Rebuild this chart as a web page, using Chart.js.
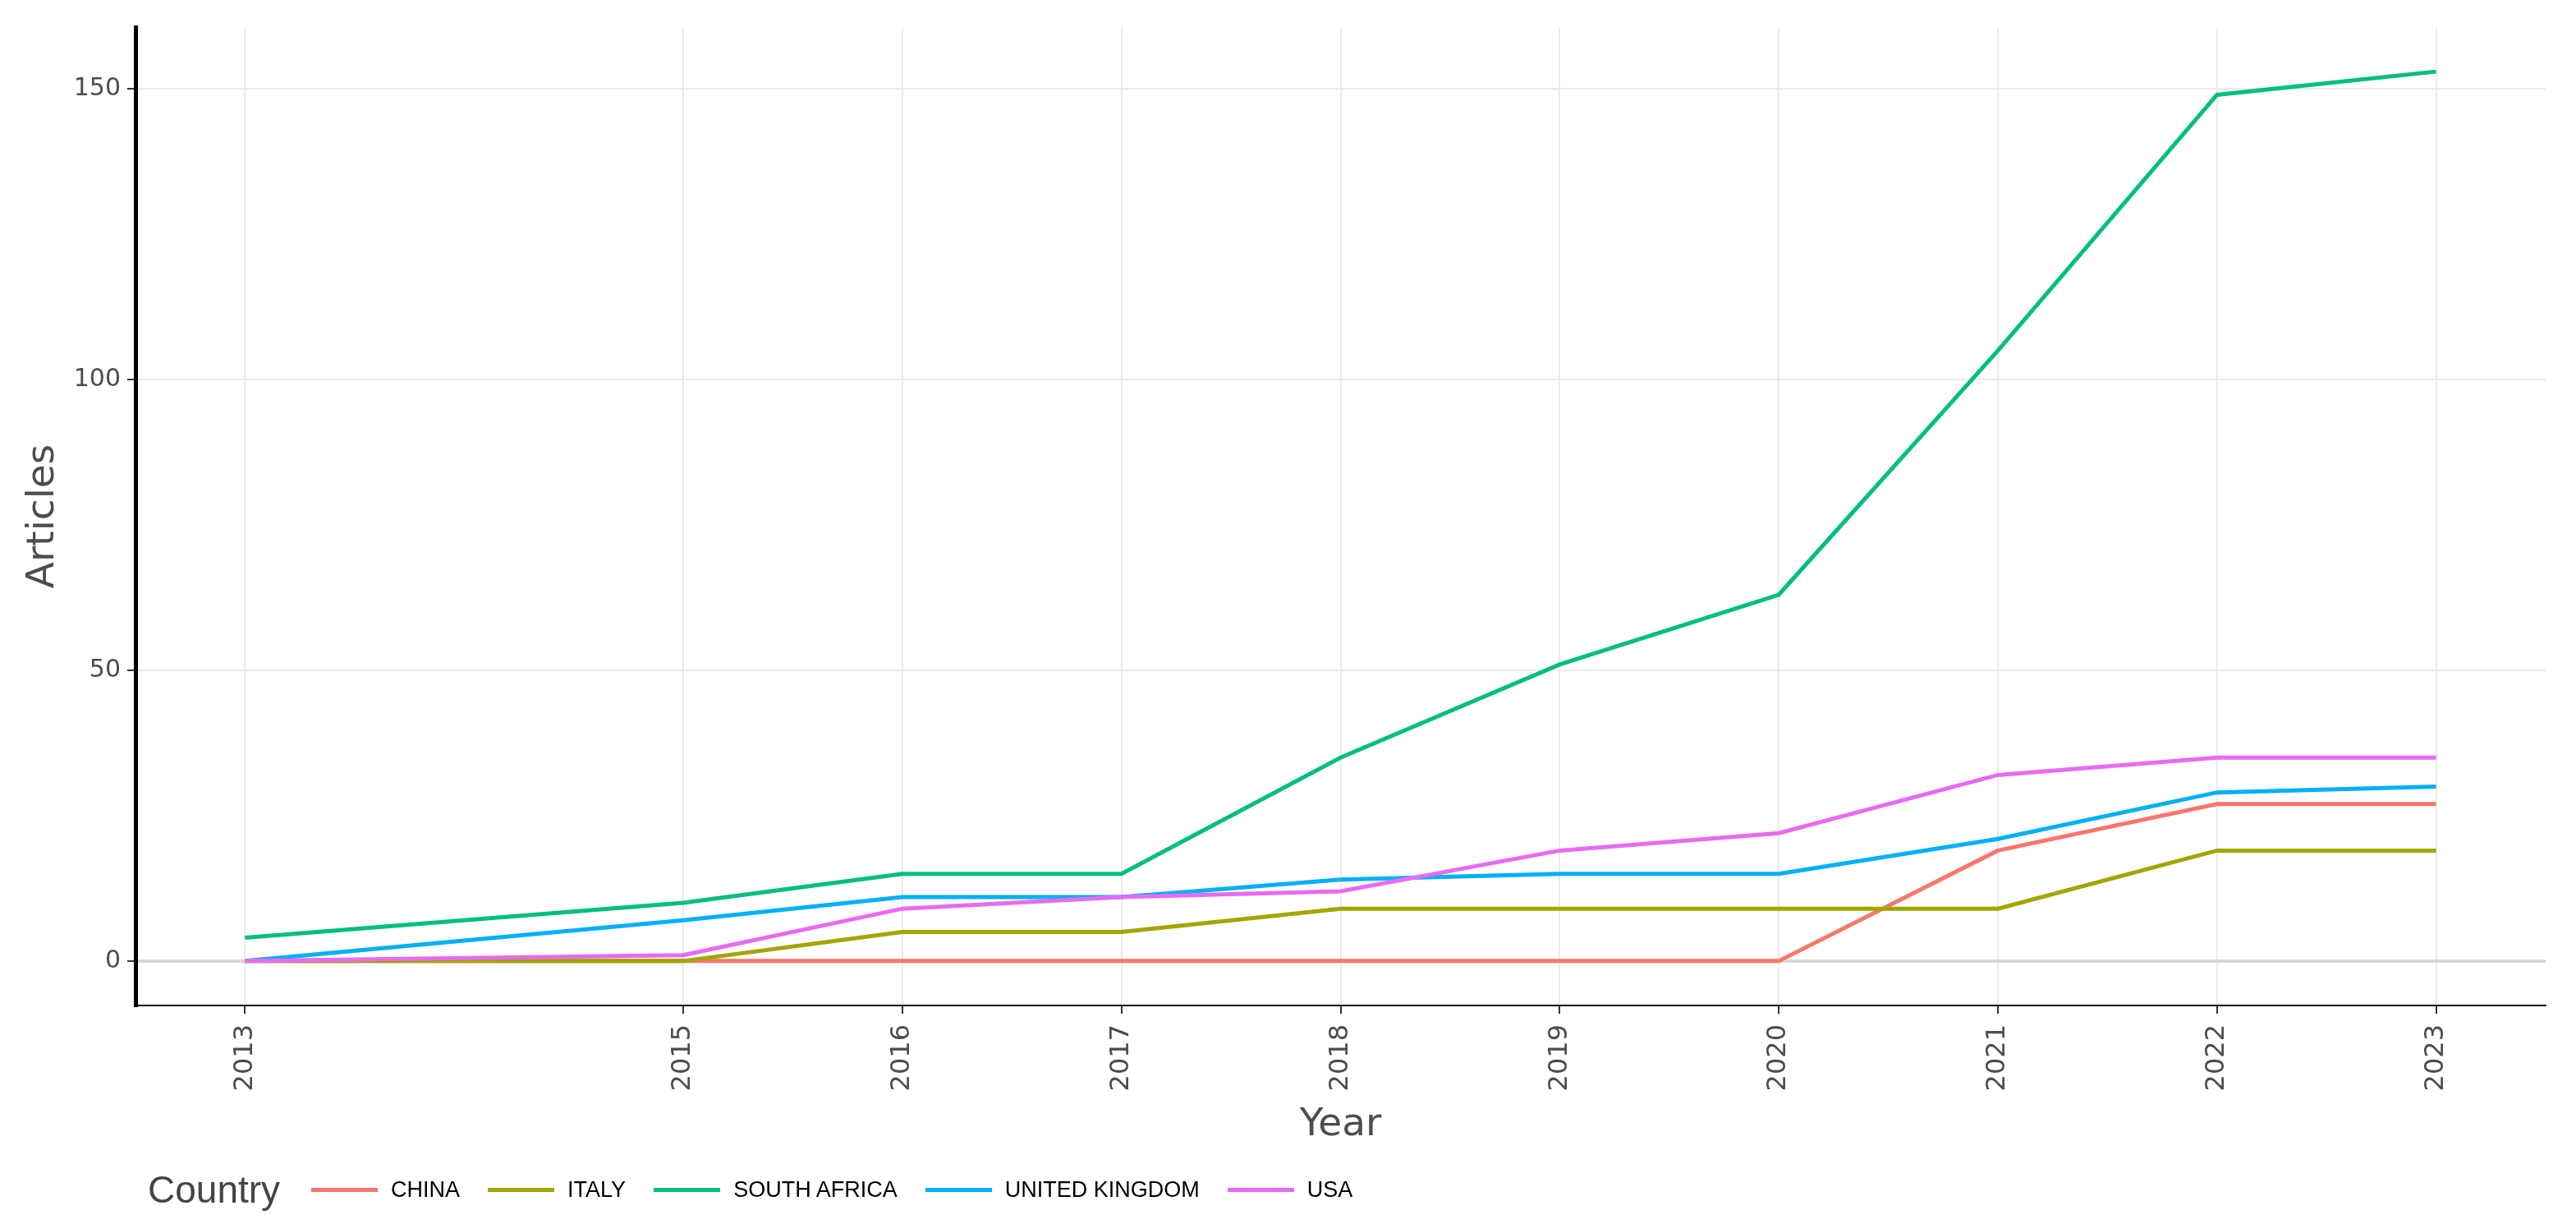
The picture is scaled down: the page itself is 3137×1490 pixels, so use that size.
<!DOCTYPE html>
<html lang="en">
<head>
<meta charset="UTF-8" />
<title>Articles per Year by Country</title>
<script src="https://cdn.jsdelivr.net/npm/chart.js"></script>
<style>
  html, body { margin: 0; padding: 0; background: #fff; }
  #wrap { position: relative; width: 3137px; height: 1490px; }
  #legend { position: absolute; left: 180px; top: 1418px; height: 60px; display: flex; align-items: center; }
  #legend .title { font-family: "Liberation Sans", Arial, sans-serif; font-size: 46px; color: #444; margin-right: 38px; }
  #legend .key { width: 81px; height: 5px; margin-right: 16px; }
  #legend .lbl { font-family: "Liberation Sans", Arial, sans-serif; font-size: 27px; color: #000; margin-right: 34px; }
</style>
</head>
<body>

<div id="wrap">
  <canvas id="articles" width="3137" height="1490"></canvas>
  <div id="legend"></div>
</div>

<script>
const years = [2013, 2015, 2016, 2017, 2018, 2019, 2020, 2021, 2022, 2023];
const countries = ["CHINA", "ITALY", "SOUTH AFRICA", "UNITED KINGDOM", "USA"];
const colors = ['#F8766D', '#A3A500', '#00BF7D', '#00B0F6', '#E76BF3'];

const china       = [0, 0, 0, 0, 0, 0, 0, 19, 27, 27];
const italy       = [0, 0, 5, 5, 9, 9, 9, 9, 19, 19];
const southAfrica = [4, 10, 15, 15, 35, 51, 63, 105, 149, 153];
const uk          = [0, 7, 11, 11, 14, 15, 15, 21, 29, 30];
const usa         = [0, 1, 9, 11, 12, 19, 22, 32, 35, 35];

const yTicks = [0, 50, 100, 150];

const series = [china, italy, southAfrica, uk, usa];

const titleFont = { family: 'DejaVu Sans', size: 47, lineHeight: 1 };

const chart = new Chart(document.getElementById('articles'), {
  type: 'line',
  data: {
    datasets: countries.map((name, i) => ({
      label: name,
      data: years.map((yr, j) => ({ x: yr, y: series[i][j] })),
      borderColor: colors[i],
      backgroundColor: colors[i],
      borderWidth: 5,
      pointRadius: 0,
      tension: 0,
      order: countries.length - i   // later countries drawn on top, like ggplot
    }))
  },
  options: {
    responsive: false,
    devicePixelRatio: 1,
    animation: false,
    layout: { padding: { top: 33, right: 37, bottom: 100, left: 0 } },
    plugins: { legend: { display: false }, tooltip: { enabled: false } },
    scales: {
      x: {
        type: 'linear',
        min: 2012.5,
        max: 2023.5,
        afterBuildTicks: s => { s.ticks = years.map(v => ({ value: v })); },
        afterFit: s => { s.height = 166; },
        ticks: {
          callback: v => String(v),
          autoSkip: false,
          minRotation: 90,
          maxRotation: 90,
          padding: 13,
          color: '#4d4d4d',
          font: { family: 'DejaVu Sans', size: 32 }
        },
        grid: { color: '#ebebeb', lineWidth: 2, tickLength: 10, tickColor: '#333', tickWidth: 2 },
        border: { color: '#000', width: 2 },
        title: { display: true, text: 'Year', color: '#4d4d4d', font: titleFont, padding: { top: 0, bottom: -3 } }
      },
      y: {
        min: -7.65,
        max: 160.65,
        afterBuildTicks: s => { s.ticks = yTicks.map(v => ({ value: v })); },
        afterFit: s => { s.width = 165; },
        ticks: { callback: v => String(v), padding: 8, color: '#4d4d4d', font: { family: 'DejaVu Sans', size: 30 } },
        grid: {
          color: ctx => (ctx.tick && ctx.tick.value === 0) ? '#d6d6d6' : '#ebebeb',
          lineWidth: ctx => (ctx.tick && ctx.tick.value === 0) ? 4 : 2,
          tickLength: 10,
          tickColor: '#333',
          tickWidth: 2
        },
        border: { color: '#000', width: 5 },
        title: { display: true, text: 'Articles', color: '#4d4d4d', font: titleFont, padding: { top: 29, bottom: 0 } }
      }
    }
  }
});

// legend: "Country" title on the left, then one line key per dataset
const legend = document.getElementById('legend');
const t = document.createElement('span');
t.className = 'title';
t.textContent = 'Country';
legend.appendChild(t);
chart.data.datasets.forEach(ds => {
  const key = document.createElement('span');
  key.className = 'key';
  key.style.background = ds.borderColor;
  const lbl = document.createElement('span');
  lbl.className = 'lbl';
  lbl.textContent = ds.label;
  legend.appendChild(key);
  legend.appendChild(lbl);
});
</script>

</body>
</html>
